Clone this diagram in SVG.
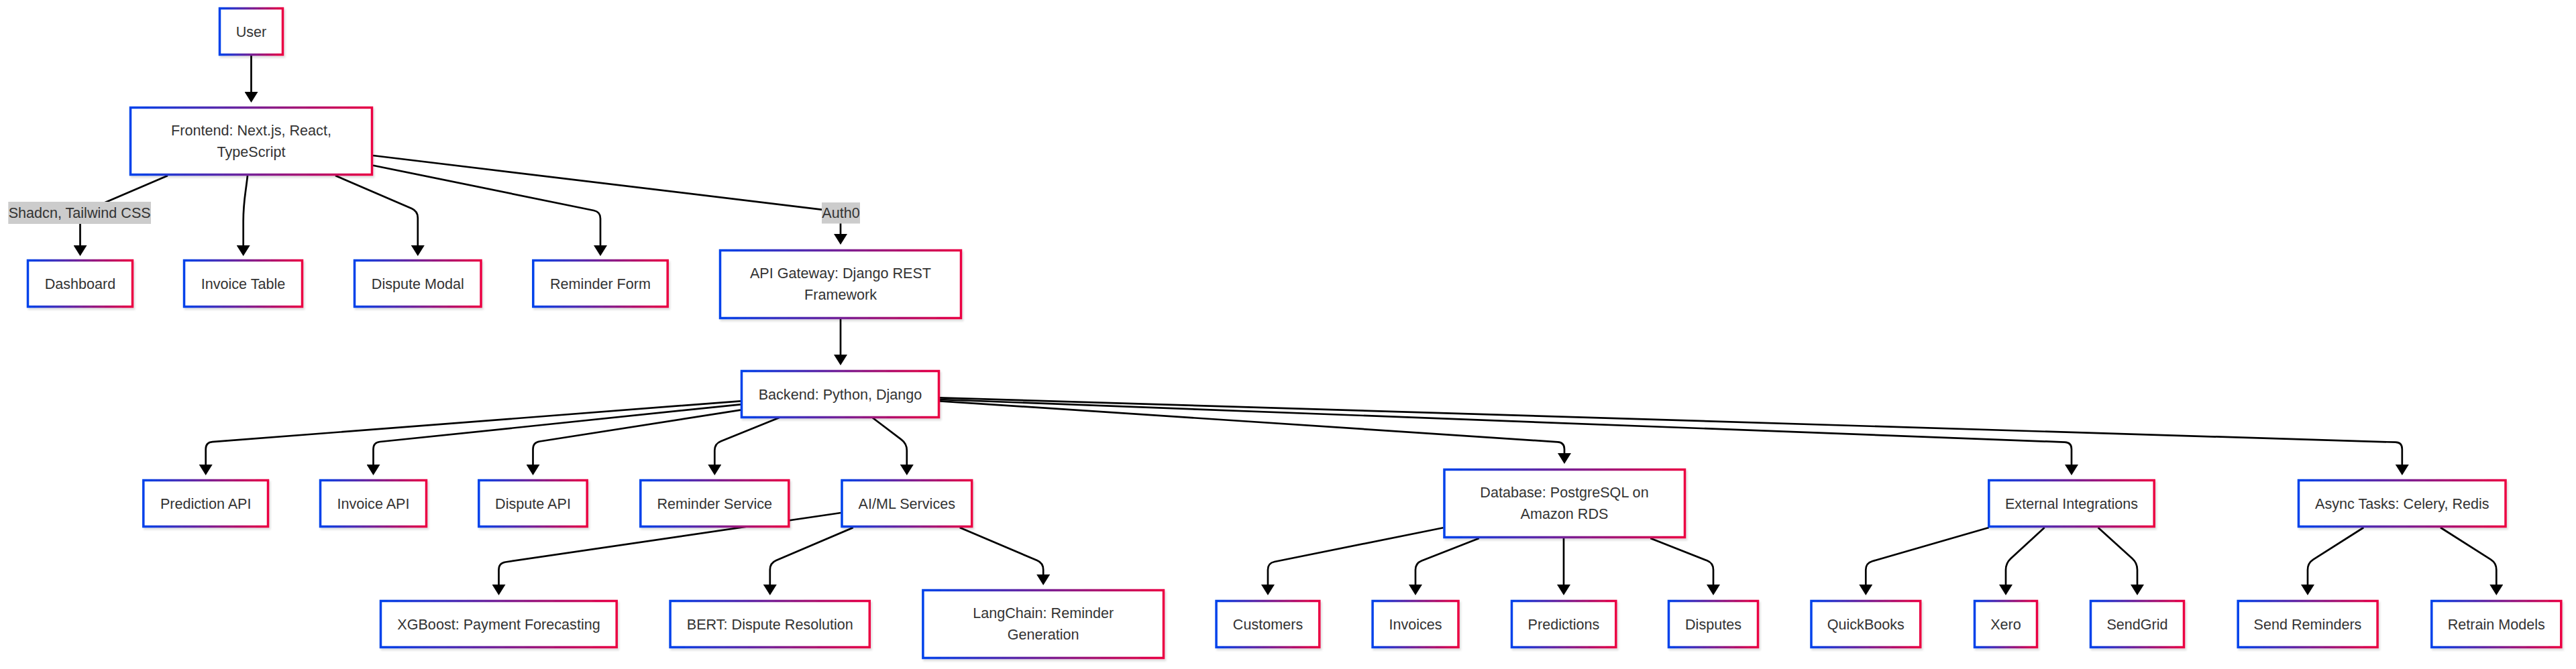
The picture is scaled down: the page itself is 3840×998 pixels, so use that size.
<svg xmlns="http://www.w3.org/2000/svg" width="3840" height="998" viewBox="0 0 3840 998">
<defs>
<linearGradient id="grad" x1="0" y1="0" x2="1" y2="0">
<stop offset="0" stop-color="#0042eb"/>
<stop offset="1" stop-color="#eb0042"/>
</linearGradient>
<filter id="shadow" x="-10%" y="-10%" width="130%" height="140%">
<feDropShadow dx="2" dy="3" stdDeviation="1.5" flood-color="#000000" flood-opacity="0.13"/>
</filter>
<marker id="arrow" markerUnits="userSpaceOnUse" viewBox="0 0 16 20" markerWidth="16" markerHeight="20" refX="8" refY="10" orient="auto">
<path d="M0,0 L16,10 L0,20 z" fill="#000000"/>
</marker>
<style>
.node rect{fill:#ffffff;stroke:url(#grad);stroke-width:3.5;filter:url(#shadow)}
.node text,.lbl text{font-family:"Liberation Sans",Arial,Helvetica,sans-serif;font-size:21.6px;fill:#333333;text-anchor:middle}
.lbl rect{fill:#cccccc}
.edges path{fill:none;stroke:#000000;stroke-width:2.7;marker-end:url(#arrow)}
</style>
</defs>
<rect width="3840" height="998" fill="#ffffff"/>
<g id="edges" class="edges">
<path d="M374.5,83 L374.5,145"/>
<path d="M250,262 L128.7,314.1 Q119.5,318 119.5,328 L119.5,374"/>
<path d="M369,262 C366,290 362.7,300 362.7,330 L362.7,374"/>
<path d="M500,262 L613.6,311 Q622.8,315 622.8,325 L622.8,374"/>
<path d="M556,246.7 L885.2,314 Q895,316 895,326 L895,374"/>
<path d="M556,232 L1243.1,314.8 Q1253,316 1253,326 L1253,357"/>
<path d="M1253,476 L1253,537"/>
<path d="M1104,598.3 L316.7,659.2 Q306.7,660 306.7,670 L306.7,701"/>
<path d="M1104,603.3 L566.4,659 Q556.5,660 556.5,670 L556.5,701"/>
<path d="M1104,611.7 L804.4,658.5 Q794.5,660 794.5,670 L794.5,701"/>
<path d="M1161.7,623 L1074.6,658.3 Q1065.3,662 1065.3,672 L1065.3,701"/>
<path d="M1300.5,623 L1343.8,655.9 Q1351.8,662 1351.8,672 L1351.8,701"/>
<path d="M1401,598.3 L2322,659.3 Q2332,660 2332,670 L2332,684"/>
<path d="M1401,596 L3078,659.6 Q3088,660 3088,670 L3088,701"/>
<path d="M1401,593.3 L3570.8,659.7 Q3580.8,660 3580.8,670 L3580.8,701"/>
<path d="M1253.5,765 L753.4,838.5 Q743.5,840 743.5,850 L743.5,880"/>
<path d="M1271.8,787 L1157,836.1 Q1147.8,840 1147.8,850 L1147.8,880"/>
<path d="M1430.7,787 L1546,836.1 Q1555.2,840 1555.2,850 L1555.2,865"/>
<path d="M2151.5,787.3 L1899.8,838 Q1890,840 1890,850 L1890,880"/>
<path d="M2204.8,803 L2119.3,836.4 Q2110,840 2110,850 L2110,880"/>
<path d="M2331,803 L2331,880"/>
<path d="M2460.3,803 L2544.7,836.3 Q2554,840 2554,850 L2554,880"/>
<path d="M2964.8,787 L2790.9,837.2 Q2781.3,840 2781.3,850 L2781.3,880"/>
<path d="M3047.7,787 L2997.4,833.2 Q2990,840 2990,850 L2990,880"/>
<path d="M3127.6,787 L3178.6,833.3 Q3186,840 3186,850 L3186,880"/>
<path d="M3523.4,787 L3448.4,834.6 Q3440,840 3440,850 L3440,880"/>
<path d="M3638,787 L3712.9,834.6 Q3721.3,840 3721.3,850 L3721.3,880"/>
</g>
<g id="edge-labels">
<g id="label-shadcn" class="lbl"><rect x="12.3" y="301" width="212.7" height="33"/><text x="118.7" y="325">Shadcn, Tailwind CSS</text></g>
<g id="label-auth0" class="lbl"><rect x="1225" y="302" width="57" height="31.5"/><text x="1253.5" y="325">Auth0</text></g>
</g>
<g id="user" class="node"><rect x="327.5" y="12.5" width="94" height="69"/><text x="374.5" y="54.5">User</text></g>
<g id="frontend" class="node"><rect x="194.5" y="160.5" width="360" height="100"/><text x="374.5" y="202">Frontend: Next.js, React,</text><text x="374.5" y="234.4">TypeScript</text></g>
<g id="dashboard" class="node"><rect x="41.5" y="388.5" width="156" height="69"/><text x="119.5" y="431">Dashboard</text></g>
<g id="invoice-table" class="node"><rect x="274.5" y="388.5" width="176" height="69"/><text x="362.5" y="431">Invoice Table</text></g>
<g id="dispute-modal" class="node"><rect x="528.5" y="388.5" width="188.5" height="69"/><text x="622.8" y="431">Dispute Modal</text></g>
<g id="reminder-form" class="node"><rect x="794.8" y="388.5" width="200.4" height="69"/><text x="895" y="431">Reminder Form</text></g>
<g id="api-gateway" class="node"><rect x="1073.5" y="373.5" width="359" height="101"/><text x="1253" y="415">API Gateway: Django REST</text><text x="1253" y="447.4">Framework</text></g>
<g id="backend" class="node"><rect x="1105.5" y="553.5" width="294" height="69"/><text x="1252.5" y="595.5">Backend: Python, Django</text></g>
<g id="prediction-api" class="node"><rect x="213.8" y="716.5" width="185.7" height="69"/><text x="306.7" y="758.5">Prediction API</text></g>
<g id="invoice-api" class="node"><rect x="477.5" y="716.5" width="158" height="69"/><text x="556.5" y="758.5">Invoice API</text></g>
<g id="dispute-api" class="node"><rect x="713.8" y="716.5" width="161.4" height="69"/><text x="794.5" y="758.5">Dispute API</text></g>
<g id="reminder-service" class="node"><rect x="954.8" y="716.5" width="221" height="69"/><text x="1065.3" y="758.5">Reminder Service</text></g>
<g id="aiml-services" class="node"><rect x="1255" y="716.5" width="193.7" height="69"/><text x="1351.8" y="758.5">AI/ML Services</text></g>
<g id="database" class="node"><rect x="2153" y="700.5" width="358.5" height="101"/><text x="2332" y="742">Database: PostgreSQL on</text><text x="2332" y="774.4">Amazon RDS</text></g>
<g id="external-integrations" class="node"><rect x="2964.8" y="716.5" width="246.4" height="69"/><text x="3088" y="758.5">External Integrations</text></g>
<g id="async-tasks" class="node"><rect x="3426.5" y="716.5" width="308.5" height="69"/><text x="3580.8" y="758.5">Async Tasks: Celery, Redis</text></g>
<g id="xgboost" class="node"><rect x="567.5" y="896.5" width="351.7" height="69"/><text x="743.5" y="938.5">XGBoost: Payment Forecasting</text></g>
<g id="bert" class="node"><rect x="999.1" y="896.5" width="297.2" height="69"/><text x="1147.8" y="938.5">BERT: Dispute Resolution</text></g>
<g id="langchain" class="node"><rect x="1375.9" y="880.5" width="358.6" height="101"/><text x="1555.2" y="922">LangChain: Reminder</text><text x="1555.2" y="954.4">Generation</text></g>
<g id="customers" class="node"><rect x="1813.1" y="896.5" width="153.7" height="69"/><text x="1890" y="938.5">Customers</text></g>
<g id="invoices" class="node"><rect x="2046.1" y="896.5" width="127.9" height="69"/><text x="2110" y="938.5">Invoices</text></g>
<g id="predictions" class="node"><rect x="2253.5" y="896.5" width="155.3" height="69"/><text x="2331" y="938.5">Predictions</text></g>
<g id="disputes" class="node"><rect x="2487.5" y="896.5" width="133" height="69"/><text x="2554" y="938.5">Disputes</text></g>
<g id="quickbooks" class="node"><rect x="2700" y="896.5" width="162.7" height="69"/><text x="2781.3" y="938.5">QuickBooks</text></g>
<g id="xero" class="node"><rect x="2943.5" y="896.5" width="93" height="69"/><text x="2990" y="938.5">Xero</text></g>
<g id="sendgrid" class="node"><rect x="3116.5" y="896.5" width="139" height="69"/><text x="3186" y="938.5">SendGrid</text></g>
<g id="send-reminders" class="node"><rect x="3336.2" y="896.5" width="207.9" height="69"/><text x="3440" y="938.5">Send Reminders</text></g>
<g id="retrain-models" class="node"><rect x="3624.8" y="896.5" width="193" height="69"/><text x="3721.3" y="938.5">Retrain Models</text></g>
</svg>
